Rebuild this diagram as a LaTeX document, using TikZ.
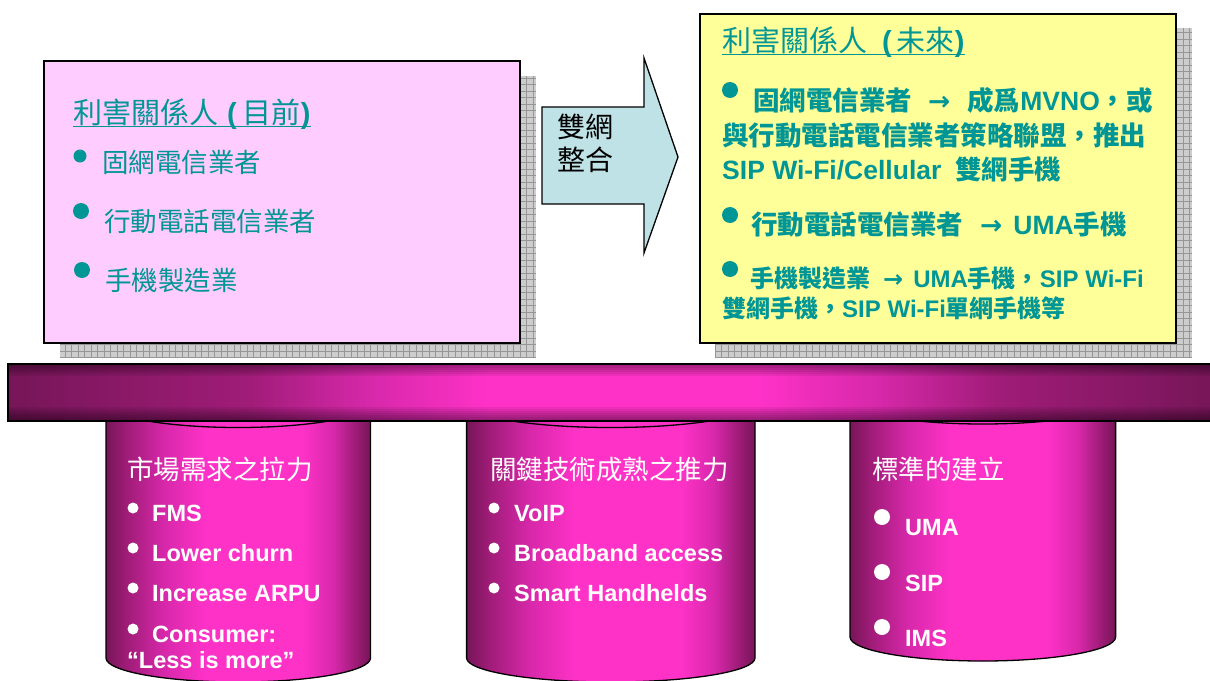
\documentclass[tikz,border=0pt]{standalone}
\usepackage{fontspec}
\setmainfont{Liberation Sans}
\newfontfamily\cjk{Noto Sans CJK TC}
\newfontfamily\arrfont{DejaVu Sans}
\definecolor{teal1}{RGB}{0,150,150}
\definecolor{pinkbox}{RGB}{255,204,255}
\definecolor{yellowbox}{RGB}{255,255,153}
\definecolor{arrowfill}{RGB}{190,226,230}
\definecolor{magdark}{RGB}{118,22,88}
\definecolor{magmid}{RGB}{160,28,120}
\definecolor{maghi}{RGB}{215,40,170}
\definecolor{magbright}{RGB}{255,50,200}
\definecolor{shadowgray}{RGB}{205,205,205}
\definecolor{gridgray}{RGB}{150,150,150}
\pgfdeclarehorizontalshading{cylshade}{100bp}{color(0bp)=(magdark); color(25bp)=(magdark); color(29bp)=(magmid); color(36bp)=(maghi); color(44bp)=(magbright); color(62bp)=(magbright); color(68bp)=(maghi); color(72bp)=(magmid); color(75bp)=(magdark); color(100bp)=(magdark)}
\pgfdeclarehorizontalshading{beamshade}{100bp}{color(0bp)=(magdark); color(25bp)=(magdark); color(35bp)=(magmid); color(40bp)=(maghi); color(45bp)=(magbright); color(56bp)=(magbright); color(61bp)=(maghi); color(66bp)=(magmid); color(75bp)=(magdark); color(100bp)=(magdark)}
\newcommand\myCyl[5]{% L, R, T, B, ry
  \pgfmathsetmacro\rxx{(#2-#1)/2}
  \shade[shading=cylshade, draw=black, line width=1.3pt]
    (#1,#3) -- (#1,#4) arc[start angle=180, end angle=360, x radius=\rxx pt, y radius=#5pt]
    -- (#2,#3) arc[start angle=0, end angle=180, x radius=\rxx pt, y radius=#5pt] -- cycle;
  \draw[line width=1.3pt] (#1,#3) arc[start angle=180, end angle=360, x radius=\rxx pt, y radius=#5pt];
}
\begin{document}
\begin{tikzpicture}[x=1pt,y=-1pt,
  lt/.style={inner sep=0pt, anchor=base west, text=teal1},
  rt/.style={inner sep=0pt, anchor=base west, text=teal1, font=\fontsize{26.5}{31}\selectfont\bfseries},
  rts/.style={inner sep=0pt, anchor=base west, text=teal1, font=\fontsize{24}{28}\selectfont\bfseries},
  ct/.style={inner sep=0pt, anchor=base west, text=white, font=\fontsize{23.5}{28}\selectfont\bfseries},
  ctitle/.style={inner sep=0pt, anchor=base west, text=white, font=\fontsize{26.5}{31}\selectfont\cjk},
  boxstyle/.style={draw=black, line width=1.8pt, inner sep=0pt, anchor=north west},
  tealdot/.style={fill=teal1},
  whitedot/.style={fill=white}]
\useasboundingbox (0,0) rectangle (1210,680);

% shadows
\foreach \a/\b/\c/\d in {60/76/536/358, 715/28/1192/358} {
  \fill[shadowgray] (\a,\b) rectangle (\c,\d);
  \begin{scope}
    \clip (\a,\b) rectangle (\c,\d);
    \draw[gridgray, line width=0.5pt, step=6.5pt] (\a,\b) grid (\c,\d);
  \end{scope}
}

% boxes
\node[boxstyle, fill=pinkbox, minimum width=476pt, minimum height=282pt] (leftbox) at (43,60) {};
\node[boxstyle, fill=yellowbox, minimum width=476pt, minimum height=329pt] (rightbox) at (699,13) {};

% arrow
\draw[fill=arrowfill, line width=1.3pt] (542,107) -- (644,107) -- (644,58) -- (678,157) -- (644,253) -- (644,204) -- (542,204) -- cycle;
\node[inner sep=0pt, anchor=base west, font=\fontsize{28}{32}\selectfont\cjk] (a1) at (557,137.5) {雙網};
\node[inner sep=0pt, anchor=base west, font=\fontsize{28}{32}\selectfont\cjk] (a2) at (557,170) {整合};

% left box text
\node[lt, font=\fontsize{29}{33}\selectfont] (ltitle) at (73,123) {{\cjk 利害關係人}\hspace{9pt}{\bfseries(}\hspace{6pt}{\cjk 目前}{\bfseries)}};
\draw[teal1, line width=1.3pt] ([yshift=-3.5pt]ltitle.base west) -- ([yshift=-3.5pt]ltitle.base east);
\fill[tealdot] (80,156) circle[radius=6.5pt];
\fill[tealdot] (81,211) circle[radius=8pt];
\fill[tealdot] (82,270) circle[radius=8pt];
\node[lt, font=\fontsize{26.5}{31}\selectfont\cjk] (l1) at (102,172) {固網電信業者};
\node[lt, font=\fontsize{26.5}{31}\selectfont\cjk] (l2) at (104,231) {行動電話電信業者};
\node[lt, font=\fontsize{26.5}{31}\selectfont\cjk] (l3) at (105,290) {手機製造業};

% right box text
\node[lt, font=\fontsize{29}{33}\selectfont] (rtitle) at (722,51) {{\cjk 利害關係人}\hspace{15pt}{\bfseries(}\hspace{5pt}{\cjk 未來}{\bfseries)}};
\draw[teal1, line width=1.3pt] ([yshift=-3.5pt]rtitle.base west) -- ([yshift=-3.5pt]rtitle.base east);
\fill[tealdot] (730,90) circle[radius=8pt];
\fill[tealdot] (730,215) circle[radius=8pt];
\fill[tealdot] (730,269) circle[radius=8pt];
\node[rt] (r1) at (753,110) {{\cjk 固網電信業者}\hspace{16pt}{\arrfont →}\hspace{17pt}{\cjk 成爲}MVNO{\cjk ，或}};
\node[rt] (r2) at (722,145) {{\cjk 與行動電話電信業者策略聯盟，推出}};
\node[rt] (r3) at (722,179) {SIP Wi-Fi/Cellular\hspace{14pt}{\cjk 雙網手機}};
\node[rt] (r4) at (751,234) {{\cjk 行動電話電信業者}\hspace{17pt}{\arrfont →}\hspace{11pt}UMA{\cjk 手機}};
\node[rts] (r5) at (750,287) {{\cjk 手機製造業}\hspace{13pt}{\arrfont →}\hspace{10pt}UMA{\cjk 手機，}SIP Wi-Fi};
\node[rts] (r6) at (722,317) {{\cjk 雙網手機，}SIP Wi-Fi{\cjk 單網手機等}};

% cylinders
\myCyl{106}{370.5}{403.5}{658}{24}
\myCyl{466.6}{755}{403.5}{658}{24}
\myCyl{850}{1115.6}{400}{637}{24}

% beam
\shade[shading=beamshade] (8,364) rectangle (1215,421);
\foreach \i in {1,...,6} \fill[black, opacity=0.07] (8,364) rectangle (1215,{364+2*\i});
\foreach \i in {1,...,7} \fill[black, opacity=0.07] (8,421) rectangle (1215,{421-2*\i});
\draw[line width=1.6pt] (8,364) rectangle (1215,421);

% cylinder 1 text
\node[ctitle] (c1t) at (127,479) {市場需求之拉力};
\foreach \y in {508,548,588,629} \fill[whitedot] (133,\y) circle[radius=5.5pt];
\node[ct] (c1a) at (152,521) {FMS};
\node[ct] (c1b) at (152,561) {Lower churn};
\node[ct] (c1c) at (152,601) {Increase ARPU};
\node[ct] (c1d) at (152,642) {Consumer:};
\node[ct] (c1e) at (127,668) {“Less is more”};

% cylinder 2 text
\node[ctitle] (c2t) at (490,479) {關鍵技術成熟之推力};
\foreach \y in {508,548,588} \fill[whitedot] (494,\y) circle[radius=5.5pt];
\node[ct] (c2a) at (514,521) {VoIP};
\node[ct] (c2b) at (514,561) {Broadband access};
\node[ct] (c2c) at (514,601) {Smart Handhelds};

% cylinder 3 text
\node[ctitle] (c3t) at (872,479) {標準的建立};
\foreach \y in {517,572,627} \fill[whitedot] (882,\y) circle[radius=8pt];
\node[ct] (c3a) at (905,535) {UMA};
\node[ct] (c3b) at (905,591) {SIP};
\node[ct] (c3c) at (905,646) {IMS};
\end{tikzpicture}
\end{document}
